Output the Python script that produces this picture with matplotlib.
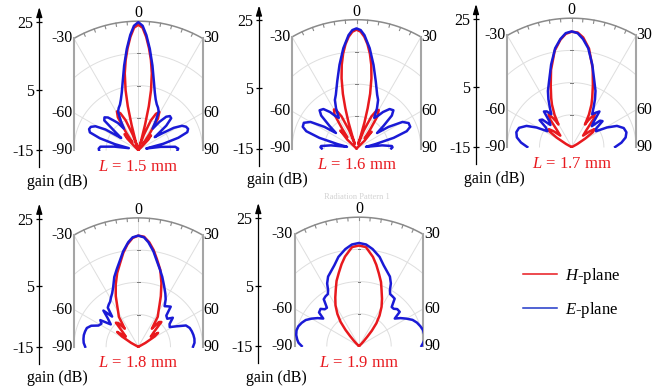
import numpy as np
import matplotlib
matplotlib.use("Agg")
import matplotlib.pyplot as plt
from matplotlib.lines import Line2D
from matplotlib.patches import Rectangle

plt.rcParams['font.family'] = 'Liberation Serif'
plt.rcParams['mathtext.fontset'] = 'custom'
plt.rcParams['mathtext.rm'] = 'Liberation Serif'
plt.rcParams['mathtext.it'] = 'Liberation Serif:italic'

RED = '#e8191e'
BLUE = '#1a1ad6'

# polar panels: centre of the plot is -15 dB, the rim is 25 dB
g_min, g_max = -15, 25
gain_ticks = [-15, 5, 25]
# the gain axis next to each panel is not evenly spaced in the source figure
gain_tick_pos = [-15, 3.7, 24.8]
angle_labels = [-90, -60, -30, 0, 30, 60, 90]
lengths = ['1.5', '1.6', '1.7', '1.8', '1.9']

# ---- L = 1.5 mm ----
e15_th = [-90, -88, -85, -82, -79, -76, -73, -70, -67, -64, -61, -58, -55, -52, -49, -46, -43, -40, -37, -34,
          -31, -28, -25, -22, -19, -16, -13, -9.5, -6.5, -4, -2,
          0, 2, 4, 6.5, 9.5, 13, 16, 19, 22, 25, 28, 31, 34, 37, 40, 43, 46, 49, 52, 55, 58, 61, 64, 67, 70,
          73, 76, 79, 82, 85, 88, 90]
e15_g = [-2.8, -2.7, -3.2, -7.5, -12.0, -7.5, -2.5, 1.0, 1.6, 1.4, 0.2, -3.0, -8.5, -6.0, -1.0, -0.4, -1.2, -3.0,
         -4.5, -7.0, -4.5, -1.6, -0.6, 0.2, 1.6, 3.6, 6.6, 11.6, 16.6, 20.8, 23.6,
         24.7, 23.6, 20.8, 16.6, 11.6, 6.6, 3.6, 1.6, 0.3, -0.5, -1.5, -4.5, -7.0, -4.0, -1.5, -0.6, -0.8, -3.5,
         -8.5, -6.0, -2.0, 0.5, 1.5, 1.8, 1.2, -2.0, -7.0, -12.5, -8.0, -3.5, -2.6, -2.8]
h15_th = [-90, -75, -65, -55, -48, -44, -41, -38, -35, -32, -29, -26, -23, -20, -18, -16.5, -15, -13.5, -12, -10,
          -8, -6, -4, -2,
          0, 2, 4, 6, 8, 10, 12, 13.5, 15, 16.5, 18, 20, 23, 26, 29, 32, 35, 38, 41, 44, 48, 55, 65, 75, 90]
h15_g = [-15, -15, -15, -15, -14.0, -10.0, -8.5, -12.0, -8.5, -3.0, -1.3, -2.3, -5.0, -10.0, -14.0, -11.5, -7.0,
         -1.0, 4.0, 9.2, 13.2, 16.8, 20.2, 23.0,
         23.9, 23.0, 20.2, 16.8, 13.2, 9.2, 4.0, -1.0, -7.0, -11.5, -14.0, -10.0, -5.0, -2.5, -1.5, -3.5, -9.0,
         -12.5, -9.0, -10.5, -14.0, -15, -15, -15, -15]

# ---- L = 1.6 mm ----
e16_th = [-90, -88, -86, -83, -80, -77, -74, -71, -68, -64, -60, -56, -53, -50, -47, -44, -40, -36, -33, -30,
          -27, -24, -21, -16, -11.5, -7.5, -4, -2,
          0, 2, 4, 7.5, 11.5, 16, 21, 24, 27, 30, 33, 36, 40, 44, 47, 50, 53, 56, 60, 64, 68, 71, 74, 77, 80,
          83, 86, 88, 90]
e16_g = [-4.2, -3.8, -4.0, -7.0, -12.0, -9.0, -3.0, 1.5, 3.0, 3.2, 1.5, -3.0, -7.0, -4.0, 0.0, 1.5, 1.0, -1.0,
         -3.0, -4.0, -1.0, 1.5, 2.9, 6.7, 11.5, 16.4, 20.3, 21.8,
         22.3, 21.8, 20.3, 16.4, 11.5, 6.7, 2.9, 1.5, -1.0, -4.0, -3.0, -1.0, 1.0, 1.5, 0.0, -4.0, -7.0, -3.0,
         1.5, 3.0, 3.0, 1.5, -3.0, -9.0, -12.0, -7.0, -4.0, -3.8, -4.2]
h16_th = [-90, -75, -60, -52, -46, -42, -39, -36, -33, -30, -28, -25, -22, -20, -18.5, -17, -15.5, -14, -12, -10,
          -8, -6, -4, -2,
          0, 2, 4, 6, 8, 10, 12, 14, 15.5, 17, 18.5, 20, 22, 25, 28, 30, 33, 36, 39, 42, 46, 52, 60, 75, 90]
h16_g = [-15, -15, -15, -15, -11.0, -7.5, -10.5, -7.5, -2.5, -1.0, -1.5, -4.0, -9.0, -13.5, -11.0, -6.5, -2.0,
         2.5, 7.3, 11.4, 14.8, 17.6, 19.8, 21.3,
         21.9, 21.3, 19.8, 17.6, 14.8, 11.4, 7.3, 2.5, -2.0, -6.5, -11.0, -13.5, -9.0, -4.0, -1.5, -1.2, -3.0,
         -8.0, -11.0, -8.0, -11.5, -15, -15, -15, -15]

# ---- L = 1.7 mm ----
e17_th = [-90, -85, -80, -75, -70, -65, -61, -57, -53, -50, -47, -44, -41, -38, -35, -32, -29, -26, -23, -19,
          -14, -9.5, -6, -3,
          0, 3, 6, 9.5, 14, 19, 23, 26, 29, 32, 35, 38, 41, 44, 47, 50, 53, 57, 61, 65, 70, 75, 80, 85, 90]
e17_g = [-1.2, 0.8, 2.3, 2.8, 2.4, 0.5, -2.5, -6.0, -5.0, -2.0, -2.5, -5.5, -4.5, -1.0, -1.5, -3.0, -1.0, 1.5,
         3.9, 6.6, 11.4, 16.1, 18.7, 20.4,
         20.9, 20.4, 18.7, 16.1, 11.4, 6.6, 3.9, 1.5, -1.0, -3.0, -2.0, -1.0, -4.5, -6.0, -3.0, -2.5, -5.5, -6.0,
         -2.5, 0.5, 2.2, 2.6, 2.0, 0.5, -1.5]
h17_th = [-90, -80, -70, -66, -62, -58, -55, -52, -49, -45, -41, -38, -35, -32, -30.5, -28, -25, -22.7, -19, -15,
          -10, -6, -3,
          0, 3, 6, 10, 15, 19, 22.7, 25, 28, 30.5, 32, 35, 38, 41, 45, 49, 52, 55, 58, 62, 66, 70, 80, 90]
h17_g = [-15, -15, -15, -14.5, -13.0, -9.5, -6.5, -6.0, -7.5, -10.0, -8.0, -4.0, -2.5, -5.0, -6.9, -3.6, -0.5,
         1.5, 5.0, 9.8, 15.4, 18.5, 20.2,
         20.8, 20.6, 19.2, 16.0, 10.2, 5.2, 1.5, -0.5, -3.6, -6.9, -5.0, -2.5, -4.0, -8.0, -10.0, -7.5, -6.0,
         -7.0, -10.0, -13.0, -14.5, -15, -15, -15]

# ---- L = 1.8 mm ----
e18_th = [-90, -86, -82, -78, -74, -70, -66, -62, -58, -55, -51, -47, -44, -41, -38, -35, -32, -29, -26, -23,
          -19, -15.5, -12, -9, -5.5, -3,
          0, 3, 5.5, 9, 12, 15.5, 19, 23, 27, 30, 33, 36, 39, 42, 46, 50, 54, 58, 62, 66, 70, 74, 78, 82, 86, 90]
e18_g = [1.5, 2.0, 2.2, 2.3, 2.2, 2.0, 1.0, -1.0, -1.5, -0.6, -4.0, -2.0, 0.6, -2.6, 0.4, 1.0, 1.5, 2.5, 3.5,
         5.0, 7.9, 10.0, 12.4, 15.0, 17.6, 19.0,
         19.5, 19.0, 17.6, 15.0, 12.4, 10.0, 7.9, 5.5, 3.5, 2.0, 0.0, 0.5, 1.0, -2.0, -2.5, -1.0, -3.0, -3.5,
         -1.5, 1.2, 2.0, 2.3, 2.5, 2.6, 2.5, 2.0]
h18_th = [-90, -80, -70, -66, -62, -58, -55, -51, -47, -43, -40, -37, -35, -33, -30, -27, -24, -20, -16, -12,
          -9, -6, -3,
          0, 3, 6, 9, 12, 16, 20, 24, 27, 30, 33, 35, 37, 40, 43, 47, 51, 55, 58, 62, 66, 70, 80, 90]
h18_g = [-15, -15, -15, -14.5, -12.5, -9.0, -7.0, -10.0, -8.5, -4.8, -5.5, -8.0, -6.5, -3.9, -2.5, -0.5, 2.2,
         5.5, 8.8, 11.8, 14.6, 17.0, 18.8,
         19.5, 19.2, 17.6, 15.4, 12.8, 9.8, 6.0, 2.2, -0.5, -2.5, -3.9, -6.5, -8.0, -5.0, -4.5, -8.5, -10.0,
         -7.5, -9.0, -12.5, -14.5, -15, -15, -15]

# ---- L = 1.9 mm ----
e19_th = [-90, -87, -84, -80, -76, -72, -68, -64, -60, -56, -52.5, -50, -46, -43, -40, -37, -34, -31, -29, -27,
          -24, -21, -17, -13, -8, -4,
          0, 4, 8, 13, 17, 21, 24, 27, 29, 31, 34, 37, 40, 43, 46, 50, 52.5, 56, 60, 64, 68, 72, 76, 80, 84,
          87, 90]
e19_g = [2.8, 3.8, 4.3, 4.8, 5.0, 4.8, 4.2, 3.4, 2.0, 0.5, -1.0, 1.2, 1.6, 0.6, 0.5, 3.2, 3.6, 3.8, 4.8, 6.8,
         8.6, 9.6, 11.2, 13.4, 15.4, 16.6,
         17.0, 16.6, 15.4, 13.4, 11.2, 9.6, 8.6, 6.8, 4.8, 3.8, 3.6, 3.4, 0.8, 0.8, 1.5, 1.5, -1.0, 0.5, 2.0,
         3.5, 4.4, 5.0, 5.5, 5.6, 5.5, 5.0, 4.4]
h19_th = [-90, -70, -60, -55, -50, -47, -44, -41.8, -40, -37.4, -34, -30, -26, -22, -19, -15.4, -12, -8.9, -4,
          0, 4, 8.9, 12, 15.4, 19, 22, 26, 30, 34, 37.4, 40, 41.8, 44, 47, 50, 55, 60, 70, 90]
h19_g = [-15, -15, -15, -15, -14.5, -13.8, -12.5, -10.8, -8.5, -5.6, -3.0, -0.4, 1.8, 4.2, 6.4, 8.6, 11.0,
         13.1, 15.8,
         16.2, 15.8, 13.0, 10.8, 8.3, 6.0, 3.7, 1.3, -1.0, -3.6, -6.1, -8.8, -11.1, -12.8, -13.9, -14.5, -15,
         -15, -15, -15]

e_cuts = [(e15_th, e15_g), (e16_th, e16_g), (e17_th, e17_g), (e18_th, e18_g), (e19_th, e19_g)]
h_cuts = [(h15_th, h15_g), (h16_th, h16_g), (h17_th, h17_g), (h18_th, h18_g), (h19_th, h19_g)]

# layout, in pixels: polar centre x, y and distance of the gain axis left of it
W, H = 663, 390
S = 3.22  # pixels per dB
panels = [(138.3, 150.0, 99.0), (356.5, 148.5, 97.5), (571.7, 147.0, 95.7),
          (138.3, 346.7, 99.0), (359.0, 346.0, 100.7)]
XL, YL = (-36, 24), (-27, 31)

fig = plt.figure(figsize=(W / 100, H / 100), dpi=100)


def polar_xy(th, g):
    t = np.radians(np.asarray(th, float))
    r = np.asarray(g, float) - g_min
    return r * np.sin(t), g_min + r * np.cos(t)


def draw_frame(ax):
    rim = g_max - g_min
    half_w = rim * np.sin(np.radians(30))
    t = np.linspace(-90, 90, 721)
    for r in (10, 20, 30):
        x, y = polar_xy(t, np.full_like(t, g_min + r))
        x = np.where(np.abs(x) <= half_w, x, np.nan)
        ax.plot(x, y, color='#dedede', lw=0.7, zorder=1)
    for a in (-60, -30, 0, 30, 60):
        rr = rim if a == 0 else min(rim, half_w / abs(np.sin(np.radians(a))))
        x, y = polar_xy([a, a], [g_min, g_min + rr])
        ax.plot(x, y, color='#dedede', lw=0.7, zorder=1)
    for r in (10, 20, 30):
        ax.plot([-0.45, 0.45], [g_min + r, g_min + r], color='#7a7a7a', lw=0.7, zorder=2)
    t = np.linspace(-30, 30, 121)
    x, y = polar_xy(t, np.full_like(t, g_max))
    ax.plot(x, y, color='#8a8a8a', lw=1.1, zorder=2, solid_capstyle='butt')
    for a in range(-25, 30, 5):
        x, y = polar_xy([a, a], [g_max, g_max - 1.0])
        ax.plot(x, y, color='#8a8a8a', lw=0.8, zorder=2)
    top = g_min + rim * np.cos(np.radians(30))
    for sx in (-half_w, half_w):
        ax.plot([sx, sx], [g_min, top], color='#a5a5a5', lw=1.5, zorder=2)
    for a in angle_labels:
        if a == 0:
            ax.text(0, g_max + 2.5, '0', ha='center', va='center', fontsize=11.5)
            continue
        y = g_min + half_w / np.tan(np.radians(abs(a)))
        if a < 0:
            ax.text(-half_w - 0.5, y, str(a), ha='right', va='center', fontsize=11.5)
        else:
            ax.text(half_w + 0.2, y, str(a), ha='left', va='center', fontsize=11.5)
    return half_w, top


for i, (cx, cy, off) in enumerate(panels):
    left = (cx + XL[0] * S) / W
    bottom = 1 - (cy - (YL[0] - g_min) * S) / H
    ax = fig.add_axes([left, bottom, (XL[1] - XL[0]) * S / W, (YL[1] - YL[0]) * S / H])
    ax.set_xlim(*XL)
    ax.set_ylim(*YL)
    ax.patch.set_visible(False)
    half_w, top = draw_frame(ax)

    clip = Rectangle((-half_w, g_min - 0.4), 2 * half_w, 45, transform=ax.transData)
    th, g = h_cuts[i]
    x, y = polar_xy(th, g)
    ln, = ax.plot(x, y, color=RED, lw=1.8, zorder=3, solid_joinstyle='round')
    ln.set_clip_path(clip)
    th, g = e_cuts[i]
    x, y = polar_xy(th, g)
    ln, = ax.plot(x, y, color=BLUE, lw=1.8, zorder=4, solid_joinstyle='round')
    ln.set_clip_path(clip)

    # gain axis with arrow
    ax_x = -off / S
    for side in ('top', 'right', 'bottom'):
        ax.spines[side].set_visible(False)
    ax.spines['left'].set_position(('data', ax_x))
    ax.spines['left'].set_bounds(g_min - 5.3, g_max + 3.5)
    ax.spines['left'].set_linewidth(0.9)
    ax.set_xticks([])
    ax.set_yticks(gain_tick_pos)
    ax.set_yticklabels([str(v) for v in gain_ticks])
    ax.tick_params(axis='y', direction='inout', length=5, width=0.9, labelsize=11.5, pad=1.5)
    ax.annotate('', xy=(ax_x, g_max + 4.4), xytext=(ax_x, g_max + 1.5),
                arrowprops=dict(arrowstyle='-|>,head_length=0.6,head_width=0.18', color='black',
                                lw=0.9, shrinkA=0, shrinkB=0), annotation_clip=False)
    ax.text(ax_x + 5.65, g_min - 9.8, 'gain (dB)', ha='center', va='center', fontsize=11.5)
    ax.text(0, g_min - 5.2, r'$\mathit{L}$ = ' + lengths[i] + ' mm', color=RED,
            ha='center', va='center', fontsize=12)

fig.text(357 / W, 1 - 197 / H, 'Radiation Pattern 1', fontsize=6, color='#d2d2d2',
         ha='center', va='center')

handles = [Line2D([0], [0], color=RED, lw=1.1), Line2D([0], [0], color='#2038c8', lw=1.1)]
fig.legend(handles, [r'$\mathit{H}$-plane', r'$\mathit{E}$-plane'], loc='upper left',
           bbox_to_anchor=(523 / W, 1 - 266 / H), frameon=False, fontsize=12,
           handlelength=2.05, handletextpad=0.45, labelspacing=0.85, borderpad=0, borderaxespad=0)

fig.savefig('out.png', dpi=100)
